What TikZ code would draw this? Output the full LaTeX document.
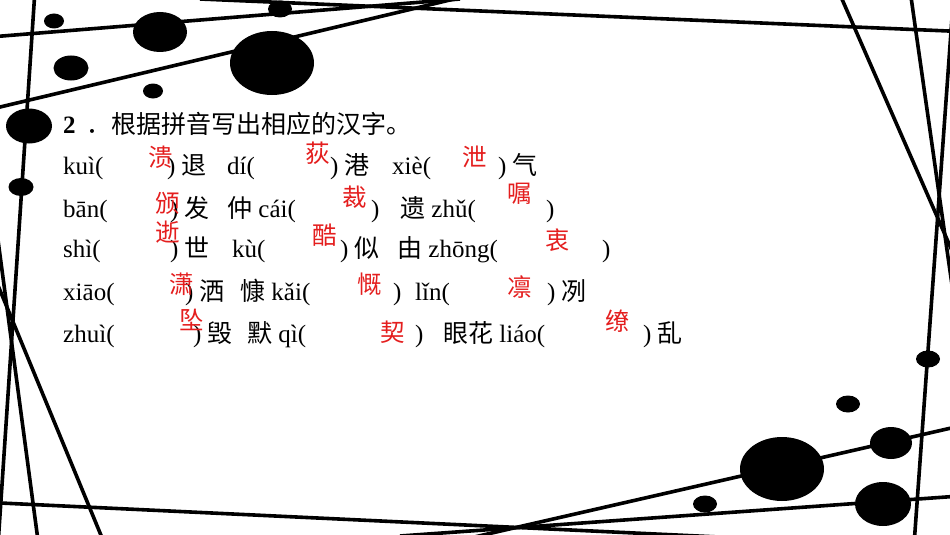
\documentclass[tikz,border=0pt]{standalone}
\usepackage{fontspec}
\setmainfont{Liberation Serif}
\newfontfamily\cjk{Noto Sans CJK SC}
\definecolor{ansred}{RGB}{228,30,30}

\begin{document}
\begin{tikzpicture}[x=1pt,y=-1pt,
    py/.style={anchor=base west,inner sep=0pt,font=\fontsize{25}{30}\selectfont},
    hz/.style={anchor=base west,inner sep=0pt,font=\fontsize{25}{30}\selectfont\cjk},
    ans/.style={inner sep=0pt,text=ansred,font=\fontsize{24.5}{28}\selectfont\cjk}]
  \useasboundingbox (0,0) rectangle (950,535);

  % background lines and dots
  \begin{scope}[line width=3.6pt]
    \clip (0,0) rectangle (950,535);
    \draw (35,-10) -- (-2,545);
    \draw (-10,266) -- (105,545);
    \draw (-2,240) -- (39,548);
    \draw (-10,502.5) -- (740,538);
    \draw (470,538) -- (960,426);
    \draw (400,536) -- (960,496);
    \draw (-10,37) -- (460,-1);
    \draw (-10,109.4) -- (460,-2.4);
    \draw (200,-1) -- (960,31.5);
    \draw (838,-10) -- (960,269);
    \draw (910,-10) -- (952,285);
    \draw (954,-10) -- (914,545);

    \fill (54,21) ellipse (10 and 7.5);
    \fill (160,32) ellipse (27 and 20);
    \fill (71,68) ellipse (17.5 and 12.5);
    \fill (153,91) ellipse (10 and 7.5);
    \fill (272,63) ellipse (42 and 32);
    \fill (280,9) ellipse (12 and 8.5);
    \fill (29,126) ellipse (23 and 17.5);
    \fill (21,187) ellipse (12.5 and 9);
    \fill (928,359) ellipse (12 and 8.5);
    \fill (848,404) ellipse (12 and 8.5);
    \fill (891,443) ellipse (21 and 16);
    \fill (782,469) ellipse (42 and 32);
    \fill (705,504) ellipse (12 and 8.5);
    \fill (883,504) ellipse (28 and 22);
  \end{scope}

  % title
  \node[py,font=\fontsize{25}{30}\selectfont\bfseries] (num) at (63,133) {2};
  \node[hz] (title) at (86,133) {．根据拼音写出相应的汉字。};

  % row 1
  \node[py] (k1) at (63,174) {kuì(};
  \node[py] (c1) at (167,174) {) {\cjk 退}};
  \node[py] (k2) at (227,174) {dí(};
  \node[py] (c2) at (330,174) {) {\cjk 港}};
  \node[py] (k3) at (392,174) {xiè(};
  \node[py] (c3) at (498,174) {) {\cjk 气}};
  \node[ans] (a1) at (161,157) {溃};
  \node[ans] (a2) at (318,153) {荻};
  \node[ans] (a3) at (475,157) {泄};

  % row 2
  \node[py] (b1) at (63,217) {bān(};
  \node[py] (d1) at (170,217) {) {\cjk 发}};
  \node[py] (b2) at (227,217) {{\cjk 仲} cái(};
  \node[py] (d2) at (371,217) {)};
  \node[py] (b3) at (400,217) {{\cjk 遗} zhǔ(};
  \node[py] (d3) at (546,217) {)};
  \node[ans] (a4) at (168,203) {颁};
  \node[ans] (a5) at (355,197) {裁};
  \node[ans] (a6) at (520,194) {嘱};

  % row 3
  \node[py] (s1) at (63,257) {shì(};
  \node[py] (e1) at (170,257) {) {\cjk 世}};
  \node[py] (s2) at (232,257) {kù(};
  \node[py] (e2) at (340,257) {) {\cjk 似}};
  \node[py] (s3) at (397,257) {{\cjk 由} zhōng(};
  \node[py] (e3) at (602,257) {)};
  \node[ans] (a7) at (168,232) {逝};
  \node[ans] (a8) at (325,235) {酷};
  \node[ans] (a9) at (558,240) {衷};

  % row 4
  \node[py] (x1) at (63,300) {xiāo(};
  \node[py] (f1) at (185,300) {) {\cjk 洒}};
  \node[py] (x2) at (240,300) {{\cjk 慷} kǎi(};
  \node[py] (f2) at (393,300) {)};
  \node[py] (x3) at (415,300) {lǐn(};
  \node[py] (f3) at (547,300) {) {\cjk 冽}};
  \node[ans] (a10) at (182,284) {潇};
  \node[ans] (a11) at (370,284) {慨};
  \node[ans] (a12) at (520,287) {凛};

  % row 5
  \node[py] (z1) at (63,342) {zhuì(};
  \node[py] (g1) at (193,342) {) {\cjk 毁}};
  \node[py] (z2) at (247,342) {{\cjk 默} qì(};
  \node[py] (g2) at (415,342) {)};
  \node[py] (z3) at (443,342) {{\cjk 眼花} liáo(};
  \node[py] (g3) at (643,342) {) {\cjk 乱}};
  \node[ans] (a13) at (192,320) {坠};
  \node[ans] (a14) at (393,332) {契};
  \node[ans] (a15) at (618,321) {缭};
\end{tikzpicture}
\end{document}
